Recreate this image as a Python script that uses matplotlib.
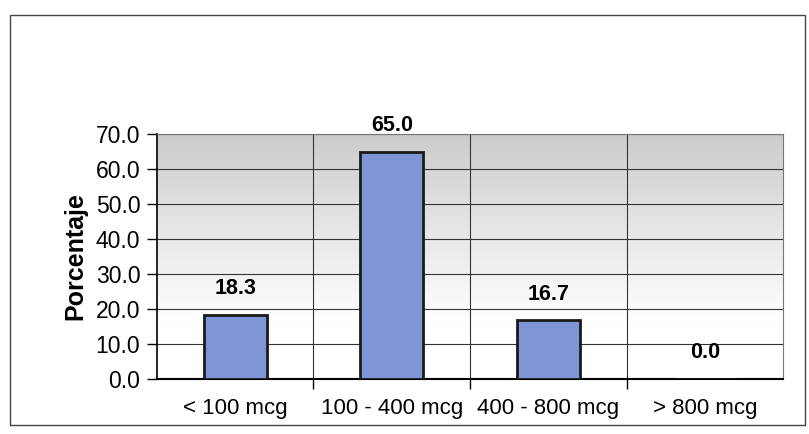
import matplotlib.pyplot as plt
import numpy as np
from matplotlib.patches import Rectangle

plt.rcParams['font.family'] = ['Liberation Sans', 'DejaVu Sans']

categorias = ['< 100 mcg', '100 - 400 mcg', '400 - 800 mcg', '> 800 mcg']
porcentaje = [18.3, 65.0, 16.7, 0.0]
yticks = [0, 10, 20, 30, 40, 50, 60, 70]

fig = plt.figure(figsize=(8.09, 4.34), dpi=100)
ax = fig.add_axes([0.194, 0.127, 0.774, 0.564])

x = np.arange(len(categorias))
ax.set_xlim(-0.5, len(categorias) - 0.5)
ax.set_ylim(0, 70)

# fondo degradado gris -> blanco
t = np.linspace(0, 1, 256)  # 0 arriba, 1 abajo
g = np.clip(0.80 + 0.20 * t * 1.3, 0, 1)
img = np.dstack([g, g, g]).reshape(-1, 1, 3)
ax.imshow(img, extent=[-0.5, len(categorias) - 0.5, 0, 70], aspect='auto', zorder=0)

ax.bar(x, porcentaje, width=0.4, color='#7f95d6', edgecolor='#1a1a1a',
       linewidth=2, zorder=3)

for xi, v in zip(x, porcentaje):
    ax.annotate('%.1f' % v, (xi, v), xytext=(0, 19), textcoords='offset points',
                ha='center', va='center', fontsize=15.5, fontweight='bold')

ax.set_yticks(yticks)
ax.set_yticklabels(['%.1f' % t for t in yticks], fontsize=16.5)
ax.set_xticks(x)
ax.set_xticklabels(categorias, fontsize=16)
ax.tick_params(axis='x', length=0, pad=14)
ax.set_xticks(np.arange(0.5, len(categorias) - 0.5), minor=True)
ax.tick_params(axis='x', which='minor', length=7, width=1)
ax.tick_params(axis='y', length=7, width=1, pad=5)

ax.grid(axis='y', color='#333333', linewidth=0.8, zorder=1)
ax.grid(axis='x', which='minor', color='#333333', linewidth=0.8, zorder=1)
ax.set_axisbelow(True)

for s in ['top', 'right']:
    ax.spines[s].set_color('#777777')
ax.spines['left'].set_linewidth(1.2)
ax.spines['bottom'].set_linewidth(1.5)

ax.set_ylabel('Porcentaje', fontsize=18, fontweight='bold', labelpad=6)

# marco exterior
fig.patches.append(Rectangle((0.012, 0.02), 0.983, 0.945, transform=fig.transFigure,
                             fill=False, edgecolor='#444444', linewidth=1))

plt.savefig('out.png', dpi=100)
